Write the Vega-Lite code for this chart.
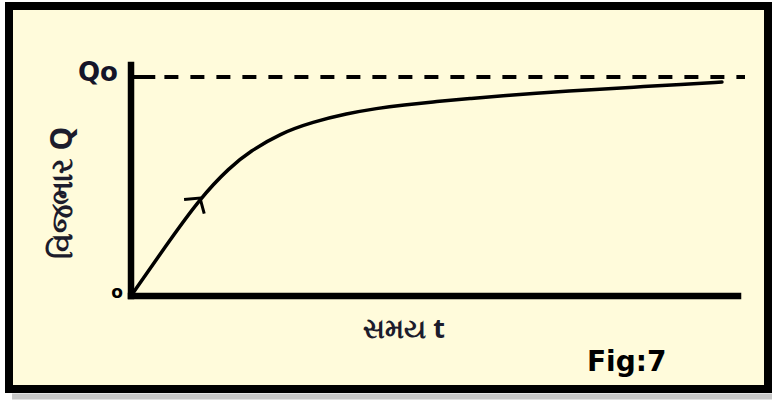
{
  "$schema": "https://vega.github.io/schema/vega-lite/v6.json",
  "width": 759,
  "height": 383,
  "autosize": {"type": "none"},
  "padding": {"left": 9, "top": 6, "right": 4, "bottom": 16},
  "background": "#ffffff",
  "config": {
    "view": {"stroke": "#000000", "strokeWidth": 8, "fill": "#FFFBDB"}
  },
  "datasets": {
    "shadow": [{"t": -1.96, "t2": 10.56, "q": -0.459}],
    "axes": [
      {"t": 0, "t2": 0, "q": 0, "q2": 1.055},
      {"t": 0, "t2": 10, "q": 0, "q2": 0}
    ],
    "qo_solid": [{"t": 0, "t2": 0.4, "q": 1}],
    "qo_dash": [{"t": 0.55, "t2": 10.115, "q": 1}],
    "curve": [
      {"t": 0, "q": 0},
      {"t": 0.56, "q": 0.224},
      {"t": 1.137, "q": 0.447},
      {"t": 1.631, "q": 0.589},
      {"t": 1.96, "q": 0.66},
      {"t": 2.455, "q": 0.742},
      {"t": 2.998, "q": 0.795},
      {"t": 3.558, "q": 0.833},
      {"t": 4.053, "q": 0.857},
      {"t": 4.481, "q": 0.872},
      {"t": 5.041, "q": 0.888},
      {"t": 5.585, "q": 0.902},
      {"t": 6.129, "q": 0.914},
      {"t": 6.689, "q": 0.926},
      {"t": 7.183, "q": 0.936},
      {"t": 7.891, "q": 0.947},
      {"t": 8.435, "q": 0.956},
      {"t": 9.045, "q": 0.966},
      {"t": 9.736, "q": 0.977}
    ],
    "arrow": [{"t": 1.137, "q": 0.447}],
    "lbl_qo": [{"t": -0.873, "q": 0.982, "text": "Qo"}],
    "lbl_o": [{"t": -0.231, "q": -0.009, "text": "o"}],
    "lbl_x": [{"t": 4.498, "q": -0.192, "text": "સમય t"}],
    "lbl_y": [{"t": -1.12, "q": 0.47, "text": "વિજભાર Q"}],
    "lbl_fig": [{"t": 7.512, "q": -0.342, "text": "Fig:7"}]
  },
  "encoding": {
    "x": {"field": "t", "type": "quantitative", "scale": {"domain": [-2.01, 10.494], "nice": false, "zero": false}, "axis": null},
    "y": {"field": "q", "type": "quantitative", "scale": {"domain": [-0.4247, 1.3242], "nice": false, "zero": false}, "axis": null}
  },
  "layer": [
    {
      "data": {"name": "shadow"},
      "mark": {"type": "rule", "color": "#9a9a9a", "strokeWidth": 6, "opacity": 0.55},
      "encoding": {"x2": {"field": "t2"}}
    },
    {
      "data": {"name": "axes"},
      "mark": {"type": "rule", "color": "#000000", "strokeWidth": 6.5, "strokeCap": "square"},
      "encoding": {"x2": {"field": "t2"}, "y2": {"field": "q2"}}
    },
    {
      "data": {"name": "qo_solid"},
      "mark": {"type": "rule", "color": "#000000", "strokeWidth": 4},
      "encoding": {"x2": {"field": "t2"}}
    },
    {
      "data": {"name": "qo_dash"},
      "mark": {"type": "rule", "color": "#000000", "strokeWidth": 4, "strokeDash": [14, 12]},
      "encoding": {"x2": {"field": "t2"}}
    },
    {
      "data": {"name": "curve"},
      "mark": {"type": "line", "color": "#000000", "strokeWidth": 3.5, "interpolate": "basis", "strokeCap": "round"},
      "encoding": {"order": {"field": "t", "type": "quantitative"}}
    },
    {
      "data": {"name": "arrow"},
      "mark": {"type": "point", "shape": "M-1.2,1L0,0L1.2,1", "filled": false, "stroke": "#000000", "strokeWidth": 3, "size": 420, "angle": 35, "opacity": 1}
    },
    {
      "data": {"name": "lbl_qo"},
      "mark": {"type": "text", "align": "left", "baseline": "alphabetic", "font": "DejaVu Sans", "fontWeight": "bold", "fontSize": 26, "color": "#141428"},
      "encoding": {"text": {"field": "text"}}
    },
    {
      "data": {"name": "lbl_o"},
      "mark": {"type": "text", "align": "center", "baseline": "alphabetic", "font": "DejaVu Sans", "fontWeight": "bold", "fontSize": 17, "color": "#000000"},
      "encoding": {"text": {"field": "text"}}
    },
    {
      "data": {"name": "lbl_x"},
      "mark": {"type": "text", "align": "center", "baseline": "alphabetic", "font": "Noto Sans", "fontWeight": "bold", "fontSize": 27, "color": "#1c1c2c"},
      "encoding": {"text": {"field": "text"}}
    },
    {
      "data": {"name": "lbl_y"},
      "mark": {"type": "text", "align": "center", "baseline": "middle", "angle": 270, "font": "Noto Sans", "fontWeight": "bold", "fontSize": 30, "color": "#1c1c2c"},
      "encoding": {"text": {"field": "text"}}
    },
    {
      "data": {"name": "lbl_fig"},
      "mark": {"type": "text", "align": "left", "baseline": "alphabetic", "font": "DejaVu Sans", "fontWeight": "bold", "fontSize": 28, "color": "#000000"},
      "encoding": {"text": {"field": "text"}}
    }
  ]
}
